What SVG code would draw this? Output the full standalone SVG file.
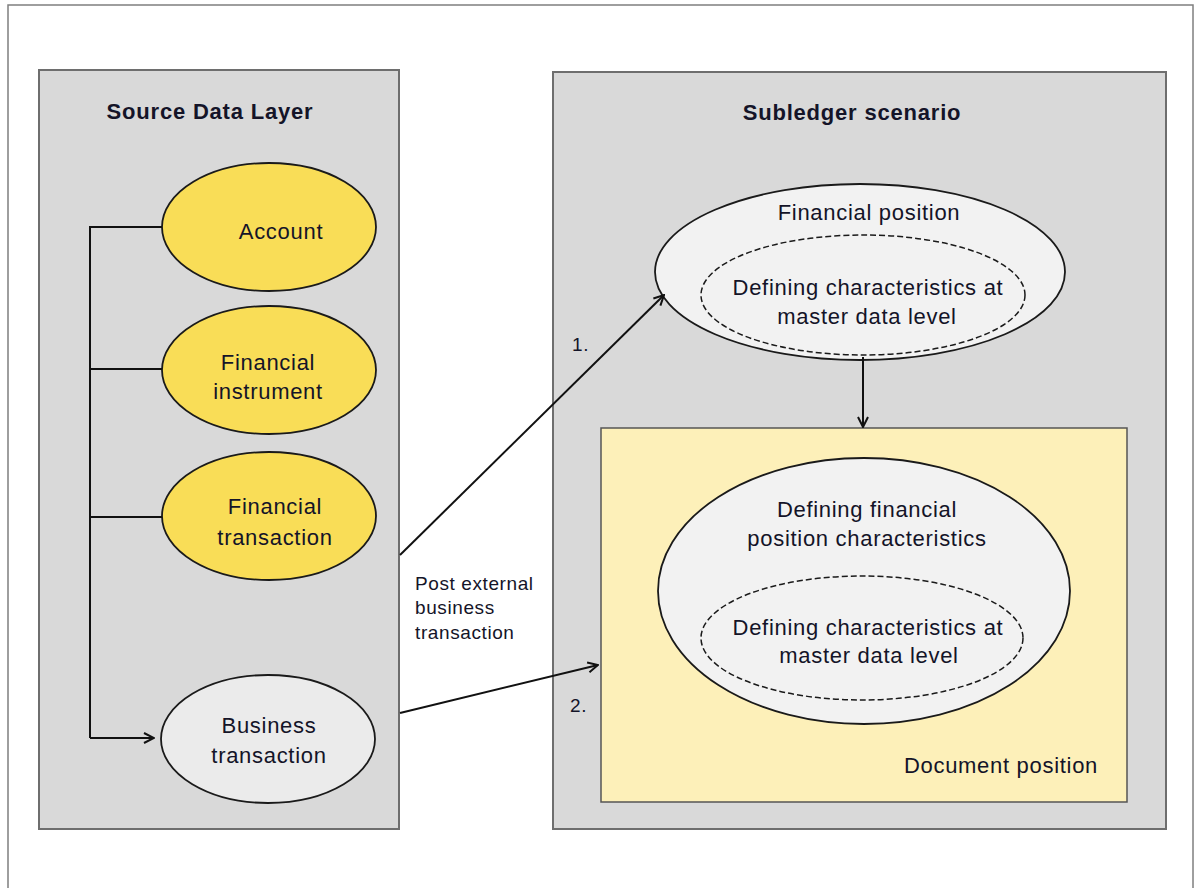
<svg xmlns="http://www.w3.org/2000/svg" width="1196" height="888" viewBox="0 0 1196 888">
  <defs>
    <style>
      .frame { fill: #ffffff; stroke: #7f7f7f; stroke-width: 1.5; }
      .panel { fill: #d9d9d9; stroke: #6e6e6e; stroke-width: 2; }
      .doc { fill: #fdf0b9; stroke: #555555; stroke-width: 1.5; }
      .gold { fill: #f9dd57; stroke: #1a1a1a; stroke-width: 1.8; }
      .light { fill: #ebebeb; stroke: #1a1a1a; stroke-width: 1.8; }
      .pos { fill: #f2f2f2; stroke: #1a1a1a; stroke-width: 1.8; }
      .dash { fill: #f2f2f2; stroke: #1a1a1a; stroke-width: 1.5; stroke-dasharray: 6 3; }
      .line { fill: none; stroke: #111111; stroke-width: 2; }
      .arrow { fill: none; stroke: #111111; stroke-width: 2; marker-end: url(#open); }
      text { font-family: "Liberation Sans", Arial, sans-serif; fill: #141428; }
      .t { font-size: 22px; text-anchor: middle; letter-spacing: 0.7px; }
      .title { font-size: 22px; font-weight: bold; text-anchor: middle; letter-spacing: 0.8px; }
      .small { font-size: 19px; letter-spacing: 0.6px; }
    </style>
    <marker id="open" viewBox="0 0 12 12" refX="11" refY="6" markerWidth="12" markerHeight="12" markerUnits="userSpaceOnUse" orient="auto">
      <path d="M1,1 L11,6 L1,11" fill="none" stroke="#111111" stroke-width="2"/>
    </marker>
  </defs>

  <rect class="frame" x="8" y="5" width="1185" height="900"/>

  <g id="source-data-layer">
    <rect class="panel" x="39" y="70" width="360" height="759"/>
    <text class="title" x="210" y="119">Source Data Layer</text>
  </g>

  <g id="subledger-scenario">
    <rect class="panel" x="553" y="72" width="613" height="757"/>
    <text class="title" x="852" y="120">Subledger scenario</text>
  </g>

  <g id="document-position">
    <rect class="doc" x="601" y="428" width="526" height="374"/>
    <text class="t" x="1001" y="773">Document position</text>
  </g>

  <g id="account">
    <ellipse class="gold" cx="269" cy="227" rx="107" ry="64"/>
    <text class="t" x="281" y="239">Account</text>
  </g>

  <g id="financial-instrument">
    <ellipse class="gold" cx="269" cy="370" rx="107" ry="64"/>
    <text class="t" x="268" y="370">Financial</text>
    <text class="t" x="268" y="399">instrument</text>
  </g>

  <g id="financial-transaction">
    <ellipse class="gold" cx="269" cy="516" rx="107" ry="64"/>
    <text class="t" x="275" y="514">Financial</text>
    <text class="t" x="275" y="545">transaction</text>
  </g>

  <g id="business-transaction">
    <ellipse class="light" cx="268" cy="739" rx="107" ry="64"/>
    <text class="t" x="269" y="733">Business</text>
    <text class="t" x="269" y="763">transaction</text>
  </g>

  <g id="financial-position">
    <ellipse class="pos" cx="860" cy="272" rx="205" ry="88"/>
    <text class="t" x="869" y="220">Financial position</text>
    <ellipse class="dash" cx="863" cy="295" rx="162" ry="60"/>
    <text class="t" x="868" y="295">Defining characteristics at</text>
    <text class="t" x="867" y="324">master data level</text>
  </g>

  <g id="defining-financial-position">
    <ellipse class="pos" cx="864" cy="591" rx="206" ry="133"/>
    <text class="t" x="867" y="517">Defining financial</text>
    <text class="t" x="867" y="546">position characteristics</text>
    <ellipse class="dash" cx="862" cy="638" rx="161" ry="62"/>
    <text class="t" x="868" y="635">Defining characteristics at</text>
    <text class="t" x="869" y="663">master data level</text>
  </g>

  <g id="connectors">
    <path class="line" d="M162,227 H90 V738"/>
    <path class="line" d="M90,369 H162"/>
    <path class="line" d="M90,517 H162"/>
    <path class="arrow" d="M90,738 H154"/>
    <path class="arrow" d="M400,555 L664,295"/>
    <path class="arrow" d="M400,713 L598,665"/>
    <path class="arrow" d="M863,357 V427"/>
    <text class="small" x="572" y="351">1.</text>
    <text class="small" x="570" y="712">2.</text>
    <text class="small" x="415" y="590">Post external</text>
    <text class="small" x="415" y="614">business</text>
    <text class="small" x="415" y="639">transaction</text>
  </g>
</svg>
